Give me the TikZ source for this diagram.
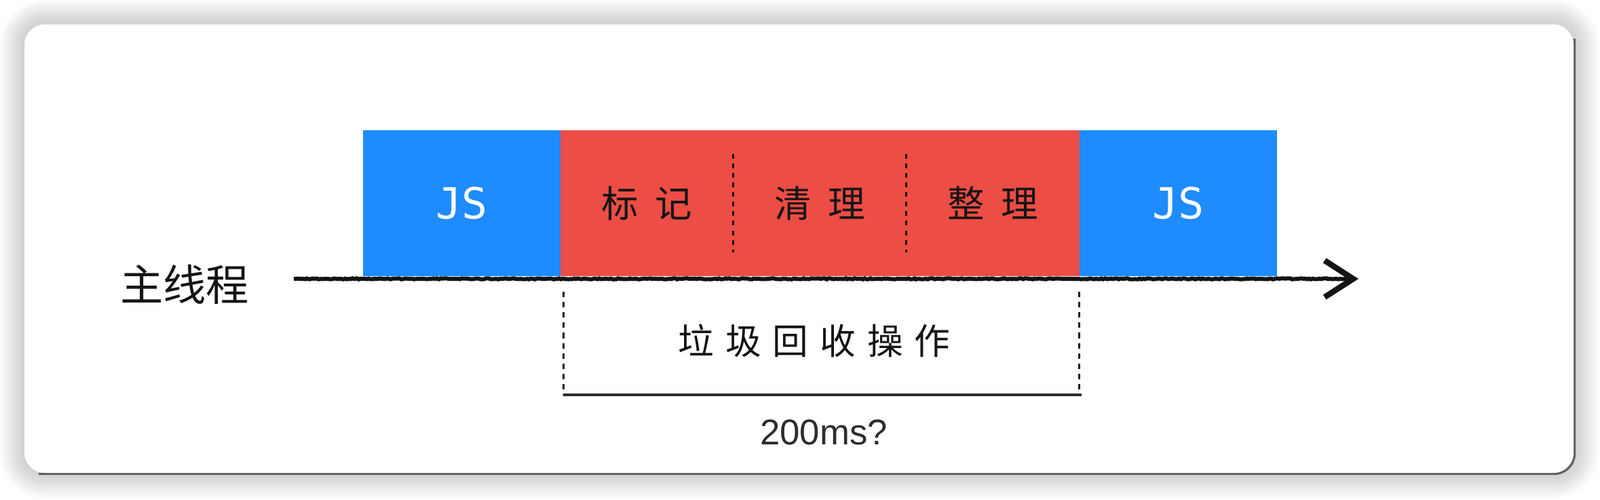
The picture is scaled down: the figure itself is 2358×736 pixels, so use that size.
\documentclass[tikz,border=0pt]{standalone}
\usepackage{fontspec}
\setmainfont{Liberation Sans}
\newfontfamily\cjk{Noto Sans CJK SC}
\newfontfamily\cjkstage[LetterSpace=45]{Noto Sans CJK SC}
\newfontfamily\cjkspan[LetterSpace=32]{Noto Sans CJK SC}
\newfontfamily\jsfont{DejaVu Sans Mono}
\usepackage{tikz}
\usetikzlibrary{positioning, arrows.meta, decorations.pathmorphing}
\definecolor{jsBlue}{RGB}{30, 139, 255}
\definecolor{gcRed}{RGB}{236, 77, 69}
\definecolor{inkBlack}{RGB}{20, 20, 20}
\definecolor{lineGray}{RGB}{45, 45, 45}
\definecolor{edgeGray}{RGB}{95, 95, 95}

\begin{document}
\begin{tikzpicture}[
    x=0.01cm, y=-0.01cm,
    node distance=0cm,
    jsbox/.style={rectangle, fill=jsBlue, text=white, inner sep=0pt, outer sep=0pt,
                  minimum width=2.91cm, minimum height=2.15cm,
                  font=\jsfont\fontsize{18}{20}\selectfont},
    gcbox/.style={rectangle, fill=gcRed, text=inkBlack, inner sep=0pt, outer sep=0pt,
                  minimum width=2.547cm, minimum height=2.15cm,
                  font=\cjkstage\fontsize{15.5}{18}\selectfont},
    stagesep/.style={draw=inkBlack, line width=0.85pt, dash pattern=on 2pt off 2pt},
    spandash/.style={draw=inkBlack, line width=0.85pt, dash pattern=on 2.3pt off 2pt},
    spanline/.style={draw=lineGray, line width=1.1pt},
    rough/.style={draw=inkBlack, line width=1.7pt, decorate,
                  decoration={random steps, segment length=0.8pt, amplitude=0.22pt}},
    chevron/.style={draw=inkBlack, line width=1.7pt,
                    -{Straight Barb[length=4.2mm, width=5.4mm, line width=2.4pt]}},
  ]
    \useasboundingbox (0,0) rectangle (2358,736);

    % card with soft shadow
    \foreach \i in {1,...,12} {
      \pgfmathsetmacro\r{0.3+0.03*\i}
      \fill[black, opacity=0.014, rounded corners=\r cm]
        (36-3*\i,36-3*\i) rectangle (2320+3*\i,698+3*\i);
    }
    \draw[edgeGray, line width=0.9pt, rounded corners=0.3cm]
      (2320.5,57) -- (2320.5,698.5) -- (57,698.5);
    \fill[white, rounded corners=0.3cm] (36,36) rectangle (2319,697);

    \node[jsbox] (JS1) at (680.5,299.5) {JS};
    \node[gcbox, right=of JS1] (MARK) {标记};
    \node[gcbox, right=of MARK] (SWEEP) {清理};
    \node[gcbox, right=of SWEEP] (COMPACT) {整理};
    \node[jsbox, right=of COMPACT] (JS2) {JS};

    \draw[stagesep] ([yshift=-0.35cm]MARK.north east) -- ([yshift=0.35cm]MARK.south east);
    \draw[stagesep] ([yshift=-0.35cm]SWEEP.north east) -- ([yshift=0.35cm]SWEEP.south east);

    \node[font=\cjk\fontsize{18}{20}\selectfont, text=inkBlack] (THREAD) at (272,419) {主线程};

    \coordinate (TLSTART) at (433,411);
    \coordinate (TLEND) at (1996,411);
    \coordinate (BARB) at (1985,411);
    \coordinate (TIP) at (2002,411);
    \draw[rough] (TLSTART) -- (TLEND);
    \draw[chevron] (BARB) -- (TIP);

    \coordinate (SPANTL) at (830,430);
    \coordinate (SPANBL) at (830,582);
    \coordinate (SPANTR) at (1590,430);
    \coordinate (SPANBR) at (1594,582);
    \coordinate (SPANR) at (1590,574);
    \draw[spandash] (SPANTL) -- (SPANBL);
    \draw[spandash] (SPANTR) -- (SPANR);
    \draw[spanline] (SPANBL) -- (SPANBR);

    \node[font=\cjkspan\fontsize{15}{18}\selectfont, text=inkBlack] (GCOP) at (1200,502) {垃圾回收操作};
    \node[font=\fontsize{15}{18}\selectfont, text=lineGray] (TIME) at (1214,637) {200ms?};
\end{tikzpicture}
\end{document}
